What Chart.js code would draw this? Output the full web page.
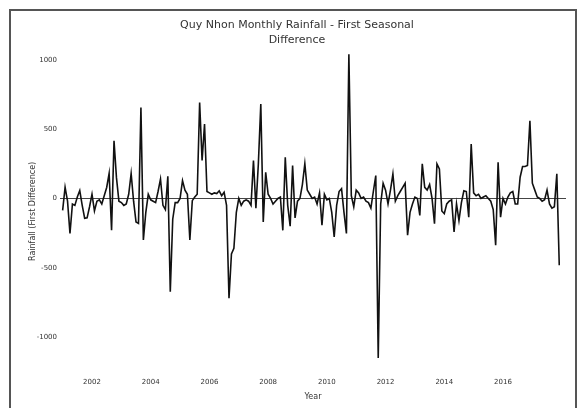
<!DOCTYPE html>
<html>
<head>
<meta charset="utf-8">
<title>Quy Nhon Monthly Rainfall - First Seasonal Difference</title>
<script src="https://cdn.jsdelivr.net/npm/chart.js@4.4.1/dist/chart.umd.min.js"></script>
<style>
  html, body { margin: 0; padding: 0; background: #fff; }
  #wrap { position: relative; width: 577px; height: 408px; overflow: hidden; }
  #rainChart { display: block; }
  #frame { position: absolute; left: 9px; top: 9px; width: 564px; height: 460px; border: 2px solid #555; pointer-events: none; }
</style>
</head>
<body>
<div id="wrap">
  <canvas id="rainChart" width="577" height="408"></canvas>
  <div id="frame"></div>
</div>
<script>
// monthly series, Jan 2001 .. Dec 2017 (mm, seasonal difference)
const startYear = 2001;
const firstDiff = [
  -86, 81, -20, -252, -40, -50, 10, 57, -50, -143, -140, -60,
  30, -90, -20, -10, -40, 20, 79, 180, -230, 416, 150, -20,
  -30, -50, -40, 30, 180, -20, -170, -180, 655, -300, -100, 30,
  -10, -20, -30, 50, 140, -50, -80, 160, -672, -150, -30, -30,
  0, 129, 60, 30, -300, -16, 10, 30, 692, 273, 536, 50,
  40, 30, 40, 35, 55, 20, 45, -50, -720, -400, -360, -100,
  0, -50, -20, -10, -20, -50, 273, -70, 250, 680, -170, 189,
  30, 0, -40, -20, 0, 10, -230, 296, -50, -200, 237, -140,
  -20, 0, 100, 250, 60, 30, 0, 10, -40, 40, -193, 30,
  -10, 0, -100, -278, -50, 50, 70, -100, -252, 1039, 20, -60,
  60, 40, 0, 10, -20, -30, -70, 50, 165, -1151, -40, 110,
  60, -40, 60, 177, -20, 20, 50, 80, 110, -265, -100, -40,
  10, 0, -122, 249, 80, 60, 100, 0, -182, 249, 213, -90,
  -110, -40, -20, -10, -242, -40, -160, -30, 55, 50, -135, 392,
  40, 20, 30, 0, 10, 20, 0, -20, -80, -337, 261, -135,
  0, -40, 10, 40, 50, -40, -40, 153, 230, 230, 237, 560,
  110, 60, 10, 0, -20, -10, 60, -40, -70, -60, 177, -481
];
const yearTicks = [2002, 2004, 2006, 2008, 2010, 2012, 2014, 2016];
const valueTicks = [-1000, -500, 0, 500, 1000];

const points = firstDiff.map((v, i) => ({ x: startYear + i / 12, y: v }));

const tickFont = { family: "DejaVu Sans", size: 7 };
const labelFont = { family: "DejaVu Sans", size: 8 };

new Chart(document.getElementById("rainChart"), {
  type: "line",
  data: {
    datasets: [{
      data: points,
      borderColor: "#111",
      borderWidth: 1.6,
      pointRadius: 0,
      tension: 0,
      fill: false
    }]
  },
  options: {
    responsive: false,
    animation: false,
    devicePixelRatio: 1,
    layout: { padding: { left: 28, right: 11, top: 0, bottom: 0 } },
    plugins: {
      legend: { display: false },
      tooltip: { enabled: false },
      title: {
        display: true,
        text: ["Quy Nhon Monthly Rainfall - First Seasonal", "Difference"],
        color: "#333",
        font: { family: "DejaVu Sans", size: 11, weight: "normal", lineHeight: 1.4 },
        padding: { top: 17, bottom: 0 }
      }
    },
    scales: {
      x: {
        type: "linear",
        min: 2000.91,
        max: 2018.146,
        afterBuildTicks: axis => { axis.ticks = yearTicks.map(v => ({ value: v })); },
        afterFit: axis => { axis.height = 33; },
        grid: { display: false, drawTicks: false },
        border: { display: false },
        ticks: { color: "#333", font: tickFont, padding: 3, maxRotation: 0, callback: v => String(v) },
        title: { display: true, text: "Year", color: "#333", font: labelFont, padding: { top: 0, bottom: 6 } }
      },
      y: {
        min: -1273,
        max: 1086,
        afterBuildTicks: axis => { axis.ticks = valueTicks.map(v => ({ value: v })); },
        afterFit: axis => { axis.width = 32; },
        grid: {
          drawTicks: false,
          lineWidth: 1,
          color: ctx => (ctx.tick && ctx.tick.value === 0) ? "#444" : "rgba(0,0,0,0)"
        },
        border: { display: false },
        ticks: { color: "#333", font: tickFont, padding: 3, callback: v => String(v) },
        title: { display: true, text: "Rainfall (First Difference)", color: "#333", font: labelFont, padding: { top: 0, bottom: 0 } }
      }
    }
  }
});
</script>
</body>
</html>
